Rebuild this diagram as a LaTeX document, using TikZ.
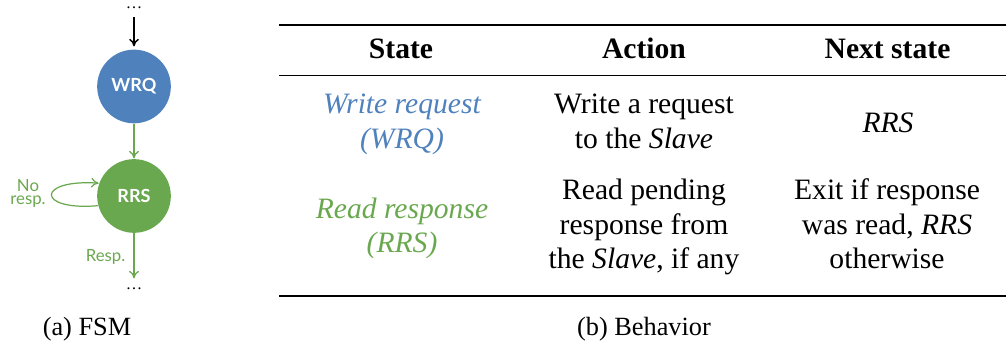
\documentclass[tikz,border=0pt]{standalone}
\usepackage{fontspec}
\setmainfont{Liberation Serif}
\newfontfamily\statefont{Lato}
\usetikzlibrary{arrows.meta}
\definecolor{wrqblue}{HTML}{4F81BD}
\definecolor{rrsgreen}{HTML}{6AA84F}
\begin{document}
\begin{tikzpicture}[x=0.304pt, y=-0.304pt,
  state/.style={circle, minimum size=22.4pt, inner sep=0pt, text=white,
    font=\statefont\bfseries\fontsize{5.5}{6}\selectfont},
  edgelabel/.style={inner sep=0pt, align=center, text=rrsgreen,
    font=\statefont\fontsize{5.1}{4.1}\selectfont},
  dots/.style={inner sep=0pt, anchor=base, font=\fontsize{5}{6}\selectfont},
  trans/.style={draw=rrsgreen, line width=0.37pt, -{To[length=2.3pt,width=3pt]}},
  entry/.style={draw=black, line width=0.45pt, -{To[length=2.3pt,width=3pt]}},
  cell/.style={anchor=base, align=center, inner sep=0pt,
    font=\fontsize{9}{10.5}\selectfont},
  head/.style={cell, font=\fontsize{9}{10.5}\selectfont\bfseries},
  caption/.style={anchor=base, inner sep=0pt, font=\fontsize{8}{9.5}\selectfont},
  heavyrule/.style={line width=0.61pt},
  lightrule/.style={line width=0.4pt}]
\useasboundingbox (0,0) rectangle (1006,347);

% ---- state machine ----
\node[dots] (in) at (134,9) {\ldots};
\node[state, fill=wrqblue] (WRQ) at (134,86.5) {WRQ};
\node[state, fill=rrsgreen] (RRS) at (134,196) {RRS};
\node[dots] (out) at (134,290) {\ldots};

\draw[entry, shorten <=2pt, shorten >=0.8pt] (in) -- (WRQ);
\draw[trans] (WRQ) -- (RRS);
\draw[trans] (RRS.195) .. controls (36,211) and (36,179) .. (RRS.160);
\draw[trans, shorten >=2.6pt] (RRS) -- (out.north);

% multi-line nodes sit on the baseline of their last line
\node[edgelabel, anchor=base] (noresp) at (28,205) {No\\resp.};
\node[edgelabel, anchor=base east] (resp) at (126,262) {Resp.};

\node[caption] (capa) at (87,336) {(a) FSM};

% ---- behaviour table ----
\draw[heavyrule] (279,25) -- (1006,25);
\draw[lightrule] (279,75.3) -- (1006,75.3);
\draw[heavyrule] (279,296) -- (1006,296);

\node[head] (hstate) at (401,59) {State};
\node[head] (haction) at (644,59) {Action};
\node[head] (hnext) at (887.5,59) {Next state};

\node[cell, text=wrqblue, font=\fontsize{9}{10.5}\selectfont\itshape] (s1) at (402,148.5) {Write request\\(WRQ)};
\node[cell] (a1) at (644,148.5) {Write a request\\to the \textit{Slave}};
\node[cell] (n1) at (888,133) {\textit{RRS}};

\node[cell, text=rrsgreen, font=\fontsize{9}{10.5}\selectfont\itshape] (s2) at (402,253) {Read response\\(RRS)};
\node[cell] (a2) at (644,269) {Read pending\\response from\\the \textit{Slave}, if any};
\node[cell] (n2) at (887,269) {Exit if response\\was read, \textit{RRS}\\otherwise};

\node[caption] (capb) at (644,336) {(b) Behavior};
\end{tikzpicture}
\end{document}
